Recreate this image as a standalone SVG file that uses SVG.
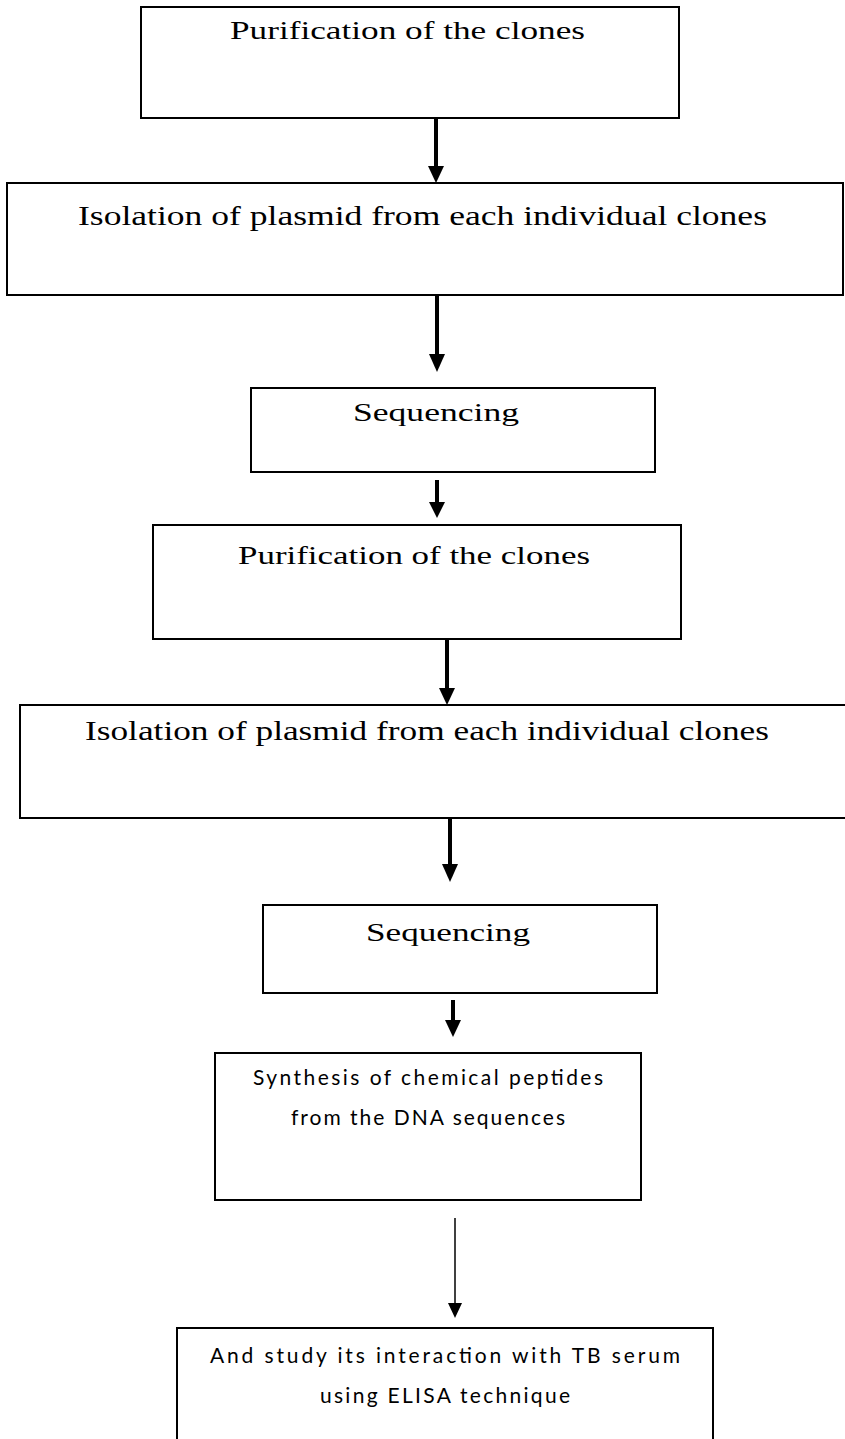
<svg xmlns="http://www.w3.org/2000/svg" width="845" height="1439" viewBox="0 0 845 1439">
  <style>
    .box { fill: #ffffff; stroke: #000000; stroke-width: 2; }
    .serif { font-family: "Liberation Serif", "DejaVu Serif", serif; fill: #000000; text-anchor: middle; }
    .sans { font-family: "Lato", "Open Sans", "Liberation Sans", sans-serif; fill: #000000; text-anchor: middle; }
    .shaft { stroke: #000000; stroke-width: 4; fill: none; }
    .thin { stroke: #000000; stroke-width: 1.5; fill: none; }
    .head { fill: #000000; stroke: none; }
  </style>
  <rect x="0" y="0" width="845" height="1439" fill="#ffffff"/>

  <!-- connectors -->
  <g id="connectors">
    <line class="shaft" x1="436" y1="118" x2="436" y2="168"/>
    <polygon class="head" points="428,166 444,166 436,183"/>

    <line class="shaft" x1="437" y1="295" x2="437" y2="356"/>
    <polygon class="head" points="429,354 445,354 437,372"/>

    <line class="shaft" x1="437" y1="480" x2="437" y2="504"/>
    <polygon class="head" points="429,502 445,502 437,518"/>

    <line class="shaft" x1="447" y1="639" x2="447" y2="690"/>
    <polygon class="head" points="439,688 455,688 447,705"/>

    <line class="shaft" x1="450" y1="818" x2="450" y2="866"/>
    <polygon class="head" points="442,864 458,864 450,882"/>

    <line class="shaft" x1="453" y1="1000" x2="453" y2="1022"/>
    <polygon class="head" points="445,1020 461,1020 453,1037"/>

    <line class="thin" x1="455" y1="1218" x2="455" y2="1305"/>
    <polygon class="head" points="448,1303 462,1303 455,1318"/>
  </g>

  <g id="node-purification-1">
    <rect class="box" x="141" y="7" width="538" height="111"/>
    <text class="serif" x="407.5" y="39" font-size="25" textLength="355" lengthAdjust="spacingAndGlyphs">Purification of the clones</text>
  </g>

  <g id="node-isolation-1">
    <rect class="box" x="7" y="183" width="836" height="112"/>
    <text class="serif" x="422.5" y="225" font-size="27" textLength="689" lengthAdjust="spacingAndGlyphs">Isolation of plasmid from each individual clones</text>
  </g>

  <g id="node-sequencing-1">
    <rect class="box" x="251" y="388" width="404" height="84"/>
    <text class="serif" x="436" y="421" font-size="26" textLength="166" lengthAdjust="spacingAndGlyphs">Sequencing</text>
  </g>

  <g id="node-purification-2">
    <rect class="box" x="153" y="525" width="528" height="114"/>
    <text class="serif" x="414" y="564" font-size="25" textLength="352" lengthAdjust="spacingAndGlyphs">Purification of the clones</text>
  </g>

  <g id="node-isolation-2">
    <rect class="box" x="20" y="705" width="830" height="113"/>
    <text class="serif" x="427" y="740" font-size="27" textLength="684" lengthAdjust="spacingAndGlyphs">Isolation of plasmid from each individual clones</text>
  </g>

  <g id="node-sequencing-2">
    <rect class="box" x="263" y="905" width="394" height="88"/>
    <text class="serif" x="448" y="941" font-size="26" textLength="164" lengthAdjust="spacingAndGlyphs">Sequencing</text>
  </g>

  <g id="node-synthesis">
    <rect class="box" x="215" y="1053" width="426" height="147"/>
    <text class="sans" x="428" y="1085" font-size="21" textLength="350" lengthAdjust="spacing">Synthesis of chemical peptides</text>
    <text class="sans" x="428" y="1125" font-size="21" textLength="274" lengthAdjust="spacing">from the DNA sequences</text>
  </g>

  <g id="node-elisa">
    <rect class="box" x="177" y="1328" width="536" height="120"/>
    <text class="sans" x="445" y="1363" font-size="21" textLength="470" lengthAdjust="spacing">And study its interaction with TB serum</text>
    <text class="sans" x="445" y="1403" font-size="21" textLength="250" lengthAdjust="spacing">using ELISA technique</text>
  </g>
</svg>
